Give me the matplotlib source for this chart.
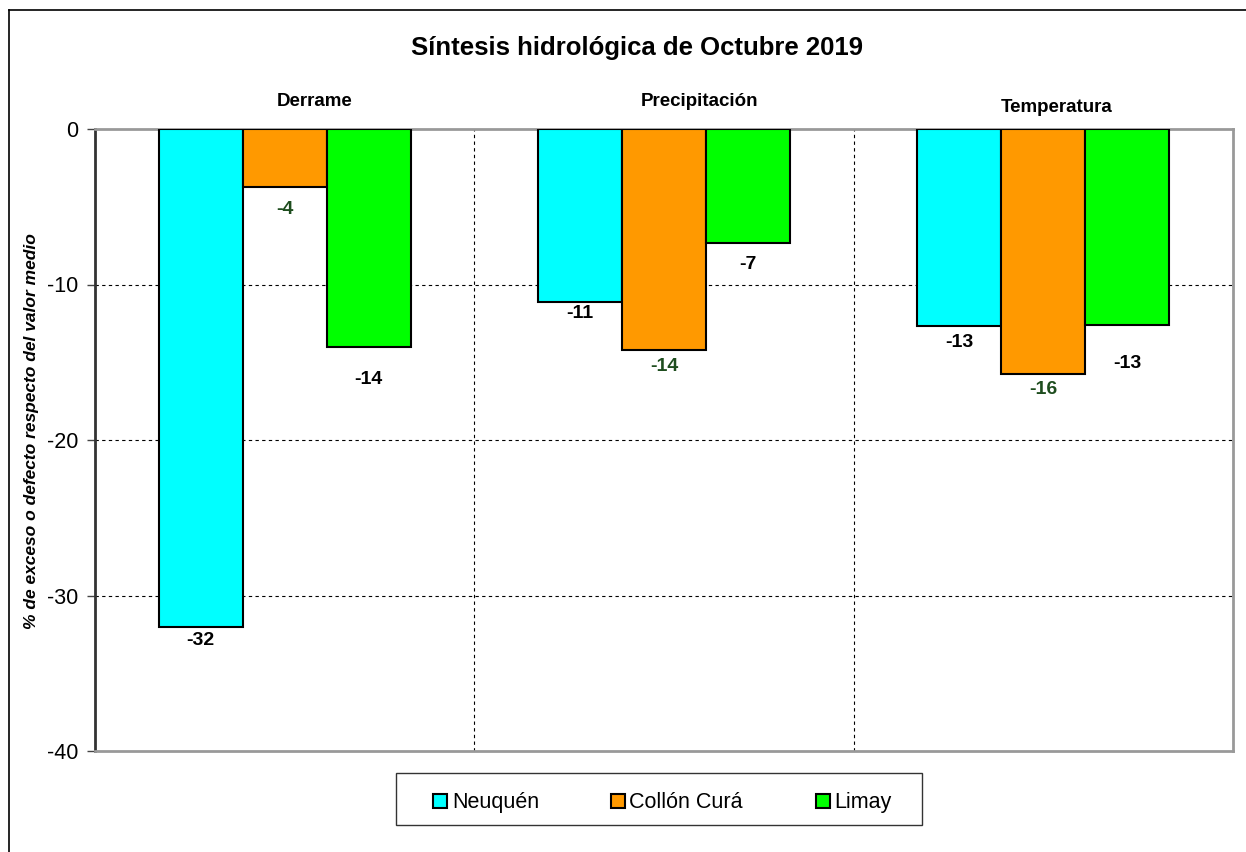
import matplotlib
matplotlib.use("Agg")
import matplotlib.pyplot as plt
from matplotlib.lines import Line2D
from matplotlib.patches import Rectangle
import numpy as np

plt.rcParams['font.family'] = ['Liberation Sans', 'DejaVu Sans']

categories = ["Derrame", "Precipitación", "Temperatura"]
series = ["Neuquén", "Collón Curá", "Limay"]
neuquen = [-32.0, -11.1, -12.65]
collon = [-3.7, -14.2, -15.75]
limay = [-14.0, -7.3, -12.6]
values = [neuquen, collon, limay]
colors = ["#00FFFF", "#FF9900", "#00FF00"]
label_colors = ["black", "#1E4D1E", "black"]
yticks = [0, -10, -20, -30, -40]

W, H = 1246, 852
fig = plt.figure(figsize=(W / 100, H / 100), dpi=100)
ax = fig.add_axes([95 / W, 1 - 751 / H, (1233 - 95) / W, (751 - 129) / H])

# vertical distance (px) of each data label below its bar end, as placed in the original
label_gap_px = [[14, 12, 17], [23, 17, 16], [33, 22, 39]]

x = np.arange(len(categories))
bw = 0.2215
for i, (vals, c, lc) in enumerate(zip(values, colors, label_colors)):
    xs = x + (i - 1) * bw
    bars = ax.bar(xs, vals, width=bw, color=c, edgecolor="black", linewidth=1.5, zorder=3)
    for j, (b, v) in enumerate(zip(bars, vals)):
        ax.annotate(f"{v:.0f}", (b.get_x() + b.get_width() / 2, v),
                    xytext=(0, -label_gap_px[i][j] * 0.72), textcoords="offset points",
                    ha="center", va="center", fontsize=14, fontweight="bold", color=lc, zorder=4)

ax.set_xlim(-0.5, 2.5)
ax.set_ylim(-40, 0)
ax.set_yticks(yticks)
ax.set_yticklabels([str(t) for t in yticks], fontsize=15.5)
ax.set_xticks([])
ax.tick_params(axis="y", direction="out", length=6, width=1, color="#444444", pad=6)

for yv in yticks[1:-1]:
    ax.axhline(yv, color="black", linestyle=(0, (3, 3)), linewidth=0.8, zorder=1)
for xv in [0.5, 1.5]:
    ax.axvline(xv, color="black", linestyle=(0, (3, 3)), linewidth=0.8, zorder=1)

ax.spines["left"].set_color("#333333")
ax.spines["left"].set_linewidth(2)
for s in ["top", "right", "bottom"]:
    ax.spines[s].set_color("#999999")
    ax.spines[s].set_linewidth(2)

ax.set_ylabel("% de exceso o defecto respecto del valor medio", fontsize=12.5,
              fontstyle="italic", fontweight="bold")
ax.yaxis.set_label_coords(-0.049, 0.515)

fig.text(637 / W, 1 - 48 / H, "Síntesis hidrológica de Octubre 2019",
         ha="center", va="center", fontsize=18.5, fontweight="bold")
group_pos = [(315, 101), (699, 101), (1057, 107)]
for name, (gx, gy) in zip(categories, group_pos):
    fig.text(gx / W, 1 - gy / H, name, ha="center", va="center", fontsize=13.5, fontweight="bold")

# legend (box + entries), laid out as in the original
fig.add_artist(Rectangle((396 / W, 1 - 825 / H), (922 - 396) / W, (825 - 773) / H,
                         transform=fig.transFigure, facecolor="none", edgecolor="#333333",
                         linewidth=1))
legend_marker_x = [439.5, 617.5, 822.5]
legend_text_x = [452, 629, 834]
for name, c, mx, tx in zip(series, colors, legend_marker_x, legend_text_x):
    fig.add_artist(Line2D([mx / W], [1 - 801 / H], transform=fig.transFigure, marker="s",
                          linestyle="none", markersize=10.5, markerfacecolor=c,
                          markeredgecolor="black", markeredgewidth=1.5))
    fig.text(tx / W, 1 - 808 / H, name, ha="left", va="baseline", fontsize=15.5)

# outer chart frame
fig.add_artist(Line2D([9 / W, 9 / W], [0, 1 - 10 / H], transform=fig.transFigure, color="black", linewidth=1.2))
fig.add_artist(Line2D([9 / W, 1], [1 - 10 / H, 1 - 10 / H], transform=fig.transFigure, color="black", linewidth=1.2))

fig.savefig("out.png", dpi=100)
